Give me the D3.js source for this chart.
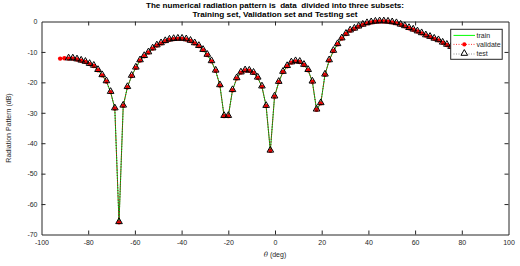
<!DOCTYPE html>
<html>
<head>
<meta charset="utf-8">
<script src="https://cdn.jsdelivr.net/npm/d3@7"></script>
<style>
  html, body { margin: 0; padding: 0; background: #fff; }
  svg { display: block; font-family: "Liberation Sans", Arial, Helvetica, sans-serif; }
</style>
</head>
<body>
<svg id="chart" width="520" height="266"></svg>
<script>
// ---- data ----
const theta = [-92, -90.2, -88.4, -86.6, -84.8, -83, -81.2, -79.4, -77.6, -75.8,
  -74, -72.2, -70.4, -68.6, -66.8, -65, -63.2, -61.4, -59.6, -57.8,
  -56, -54.2, -52.4, -50.6, -48.8, -47, -45.2, -43.4, -41.6, -39.8,
  -38, -36.2, -34.4, -32.6, -30.8, -29, -27.2, -25.4, -23.6, -21.8,
  -20, -18.2, -16.4, -14.6, -12.8, -11, -9.2, -7.4, -5.6, -3.8,
  -2, -0.2, 1.6, 3.4, 5.2, 7, 8.8, 10.6, 12.4, 14.2,
  16, 17.8, 19.6, 21.4, 23.2, 25, 26.8, 28.6, 30.4, 32.2,
  34, 35.8, 37.6, 39.4, 41.2, 43, 44.8, 46.6, 48.4, 50.2,
  52, 53.8, 55.6, 57.4, 59.2, 61, 62.8, 64.6, 66.4, 68.2,
  70, 71.8, 73.6, 75.4, 77.2, 79, 80.8];
const radiationDb = [-12.2, -12.1, -12.2, -12.2, -12.5, -12.9, -13.3, -14.0, -14.6, -16.0,
  -17.7, -19.7, -23.2, -28.6, -66.0, -27.7, -21.6, -17.9, -15.2, -12.8,
  -11.4, -10.2, -8.9, -7.9, -7.2, -6.5, -6.0, -5.8, -5.7, -5.7,
  -5.9, -6.4, -7.2, -8.1, -9.4, -11.0, -13.1, -16.2, -21.0, -31.1,
  -31.1, -22.6, -18.7, -16.8, -16.1, -16.2, -16.9, -18.5, -21.4, -27.8,
  -42.5, -24.7, -19.9, -16.6, -14.7, -13.5, -13.1, -13.3, -14.3, -16.0,
  -19.8, -29.0, -26.9, -17.5, -12.8, -9.7, -7.5, -5.6, -4.1, -3.0,
  -2.4, -1.7, -1.1, -0.6, -0.3, -0.1, 0, 0, -0.1, -0.3,
  -0.6, -1.1, -1.6, -2.2, -2.7, -3.3, -3.9, -4.6, -5.1, -5.7,
  -6.2, -7.0, -7.7, -8.4, -9.1, -9.9, -10.8];
const testStartIndex = 2; // first two points are validation-only
const xTicks = [-100, -80, -60, -40, -20, 0, 20, 40, 60, 80, 100];
const yTicks = [0, -10, -20, -30, -40, -50, -60, -70];
const legendLabels = ["train", "validate", "test"];
const titleLines = ["The numerical radiation pattern is  data  divided into three subsets:",
                    "Training set, Validation set and Testing set"];

// ---- layout ----
const svg = d3.select("#chart");
const L = 41.5, R = 508.5, T = 21.5, B = 234.5;
const x = d3.scaleLinear().domain([-100, 100]).range([L, R]);
const y = d3.scaleLinear().domain([-70, 0]).range([B, T]);
const axisColor = "#262626";
const fmt = d => String(d);

const pts = theta.map((t, i) => ({ t, v: radiationDb[i], i }));
const testPts = pts.filter(d => d.i >= testStartIndex);

// axes (MATLAB style, inward ticks, box)
const tickLen = 4;
const gx = svg.append("g").attr("transform", `translate(0,${B})`)
  .call(d3.axisBottom(x).tickValues(xTicks).tickFormat(fmt).tickSizeInner(-tickLen).tickSizeOuter(0).tickPadding(6));
const gxTop = svg.append("g").attr("transform", `translate(0,${T})`)
  .call(d3.axisTop(x).tickValues(xTicks).tickSizeInner(-tickLen).tickSizeOuter(0).tickFormat(""));
const gy = svg.append("g").attr("transform", `translate(${L},0)`)
  .call(d3.axisLeft(y).tickValues(yTicks).tickFormat(fmt).tickSizeInner(-tickLen).tickSizeOuter(0).tickPadding(4));
const gyR = svg.append("g").attr("transform", `translate(${R},0)`)
  .call(d3.axisRight(y).tickValues(yTicks).tickSizeInner(-tickLen).tickSizeOuter(0).tickFormat(""));
[gx, gxTop, gy, gyR].forEach(g => {
  g.select(".domain").attr("stroke", axisColor).attr("stroke-width", 1);
  g.selectAll(".tick line").attr("stroke", axisColor).attr("stroke-width", 1);
  g.selectAll(".tick text").attr("fill", axisColor).style("font-size", "7px")
    .style("font-family", '"Liberation Sans", Arial, sans-serif');
});
gx.selectAll(".tick line").filter(d => d === -100 || d === 100).remove();
gxTop.selectAll(".tick line").filter(d => d === -100 || d === 100).remove();
gy.selectAll(".tick line").filter(d => d === 0 || d === -70).remove();
gyR.selectAll(".tick line").filter(d => d === 0 || d === -70).remove();

// series
const line = d3.line().x(d => x(d.t)).y(d => y(d.v));
svg.append("path").datum(pts).attr("d", line)
  .attr("fill", "none").attr("stroke", "#00c800").attr("stroke-width", 1);
svg.append("path").datum(pts).attr("d", line)
  .attr("fill", "none").attr("stroke", "#ff0000").attr("stroke-width", 0.8)
  .attr("stroke-dasharray", "1,2");
svg.append("g").selectAll("circle").data(pts).join("circle")
  .attr("cx", d => x(d.t)).attr("cy", d => y(d.v)).attr("r", 2.2).attr("fill", "#ff0000");
svg.append("path").datum(testPts).attr("d", line)
  .attr("fill", "none").attr("stroke", "#333").attr("stroke-width", 0.8)
  .attr("stroke-dasharray", "1,1.5").attr("stroke-dashoffset", 1);
const tri = d3.symbol().type(d3.symbolTriangle).size(19);
svg.append("g").selectAll("path").data(testPts).join("path")
  .attr("d", tri).attr("transform", d => `translate(${x(d.t)},${y(d.v) - 0.6})`)
  .attr("fill", "none").attr("stroke", "#000").attr("stroke-width", 1);

// legend
const lg = svg.append("g");
lg.append("rect").attr("x", 450.7).attr("y", 29.3).attr("width", 51.5).attr("height", 30)
  .attr("fill", "#fff").attr("stroke", axisColor).attr("stroke-width", 1);
const ly = [35.4, 44.4, 54];
lg.append("line").attr("x1", 453.5).attr("x2", 475).attr("y1", ly[0]).attr("y2", ly[0])
  .attr("stroke", "#00ff00").attr("stroke-width", 1);
lg.append("line").attr("x1", 453.5).attr("x2", 475).attr("y1", ly[1]).attr("y2", ly[1])
  .attr("stroke", "#ff0000").attr("stroke-width", 0.8).attr("stroke-dasharray", "1,1.5");
lg.append("circle").attr("cx", 464.3).attr("cy", ly[1]).attr("r", 2.1).attr("fill", "#ff0000");
lg.append("line").attr("x1", 453.5).attr("x2", 475).attr("y1", ly[2]).attr("y2", ly[2])
  .attr("stroke", "#777").attr("stroke-width", 0.8).attr("stroke-dasharray", "1,1.5");
lg.append("path").attr("d", tri).attr("transform", `translate(464.3,${ly[2] - 0.6})`)
  .attr("fill", "#fff").attr("stroke", "#000").attr("stroke-width", 1);
legendLabels.forEach((s, i) => {
  lg.append("text").attr("x", 476.5).attr("y", ly[i] + 2.4).text(s)
    .attr("fill", axisColor).style("font-size", "7px");
});

// title
const titleWidths = [258, 165];
titleLines.forEach((s, i) => {
  svg.append("text").attr("x", 275).attr("y", [7.8, 16.6][i]).attr("text-anchor", "middle")
    .attr("fill", "#000").style("font-size", "8px").style("font-weight", "bold")
    .style("white-space", "pre").attr("xml:space", "preserve")
    .attr("textLength", titleWidths[i]).attr("lengthAdjust", "spacingAndGlyphs").text(s);
});

// axis labels
const xl = svg.append("text").attr("x", 275).attr("y", 257).attr("text-anchor", "middle")
  .attr("fill", axisColor).style("font-size", "7px");
xl.append("tspan").style("font-style", "italic").style("font-family", '"DejaVu Serif", serif').text("θ");
xl.append("tspan").text(" (deg)");
svg.append("text").attr("transform", `translate(11,128) rotate(-90)`).attr("text-anchor", "middle")
  .attr("fill", axisColor).style("font-size", "7px").text("Radiation Pattern (dB)");
</script>
</body>
</html>
